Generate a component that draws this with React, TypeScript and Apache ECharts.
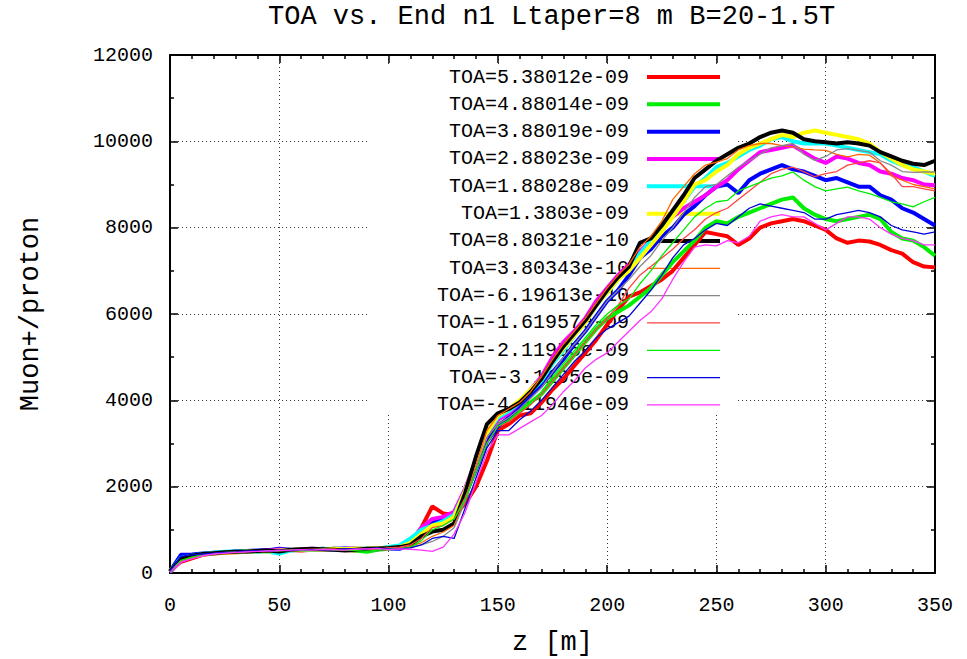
import React, { useEffect, useRef } from 'react';
import * as echarts from 'echarts';

const zValues = [
  0, 5, 10, 15, 20, 25, 30, 35, 40, 45, 50, 55, 60, 65, 70, 75, 80, 85, 90, 95, 100, 105,
  110, 115, 120, 125, 130, 135, 140, 145, 150, 155, 160, 165, 170, 175, 180, 185, 190, 195,
  200, 205, 210, 215, 220, 225, 230, 235, 240, 245, 250, 255, 260, 265, 270, 275, 280, 285,
  290, 295, 300, 305, 310, 315, 320, 325, 330, 335, 340, 345, 350,
];

const seriesNames = [
  'TOA=5.38012e-09', 'TOA=4.88014e-09', 'TOA=3.88019e-09', 'TOA=2.88023e-09',
  'TOA=1.88028e-09', 'TOA=1.3803e-09', 'TOA=8.80321e-10', 'TOA=3.80343e-10',
  'TOA=-6.19613e-10', 'TOA=-1.61957e-09', 'TOA=-2.11955e-09', 'TOA=-3.1195e-09',
  'TOA=-4.11946e-09',
];

const seriesColors = [
  '#ff0000', '#00ee00', '#0000ff', '#ff00ff', '#00ffff', '#ffff00', '#000000',
  '#ff6600', '#888888', '#ff4444', '#00ee00', '#0000dd', '#ff33ff',
];

const seriesWidths = [4, 4, 4, 4, 4, 4, 4, 1.3, 1.3, 1.3, 1.3, 1.3, 1.3];

const toaA = [60, 260, 340, 420, 450, 470, 480, 490, 510, 500, 520, 530, 520, 540, 560, 540, 530, 520, 560, 570, 590, 620,
  700, 1050, 1540, 1380, 1350, 1600, 2000, 2600, 3300, 3450, 3650, 3700, 3950, 4250, 4500, 4800, 5100, 5400, 5750, 6100, 6400, 6500, 6650, 6800, 7000, 7300, 7600, 7900, 7850, 7800, 7600, 7750, 8000, 8100, 8150, 8200, 8150, 8050, 7950, 7750, 7650, 7700, 7680, 7600, 7480, 7400, 7200, 7100, 7080];
const toaB = [30, 300, 380, 430, 460, 480, 490, 500, 500, 520, 510, 530, 540, 530, 550, 560, 540, 520, 490, 540, 560, 600,
  680, 950, 1250, 1200, 1350, 1750, 2450, 3100, 3450, 3550, 3750, 3950, 4150, 4450, 4750, 5050, 5350, 5650, 5900, 6050, 6200, 6400, 6600, 6900, 7200, 7450, 7700, 8000, 8150, 8100, 8250, 8350, 8450, 8550, 8650, 8700, 8450, 8300, 8200, 8150, 8200, 8250, 8300, 8200, 7900, 7750, 7700, 7550, 7350];
const toaC = [40, 420, 430, 450, 470, 480, 500, 510, 520, 530, 560, 540, 530, 550, 540, 560, 570, 560, 540, 580, 570, 560,
  650, 900, 1150, 1250, 1350, 1800, 2400, 3050, 3400, 3600, 3850, 4100, 4350, 4650, 4950, 5300, 5600, 5950, 6300, 6550, 6900, 7300, 7500, 7800, 8000, 8300, 8500, 8750, 8950, 9000, 8800, 9100, 9250, 9350, 9450, 9350, 9300, 9200, 9100, 9150, 9050, 8950, 8950, 8750, 8650, 8450, 8350, 8200, 8050];
const toaD = [20, 280, 370, 430, 460, 470, 490, 500, 510, 520, 540, 530, 550, 560, 550, 540, 560, 570, 560, 550, 580, 590,
  700, 1050, 1250, 1300, 1420, 1950, 2600, 3200, 3550, 3700, 3950, 4250, 4550, 5000, 5350, 5600, 5900, 6300, 6600, 6900, 7150, 7450, 7700, 8000, 8250, 8450, 8600, 8750, 8950, 9100, 9350, 9550, 9750, 9800, 9850, 9900, 9750, 9600, 9500, 9650, 9600, 9500, 9450, 9300, 9250, 9150, 9100, 9000, 8980];
const toaE = [30, 350, 400, 440, 470, 490, 500, 510, 500, 490, 450, 520, 540, 550, 560, 540, 550, 560, 570, 560, 600, 640,
  800, 1000, 1100, 1200, 1350, 1900, 2600, 3250, 3600, 3750, 3950, 4200, 4450, 4850, 5150, 5500, 5800, 6200, 6500, 6800, 7050, 7400, 7700, 7950, 8300, 8600, 8950, 9150, 9400, 9500, 9650, 9800, 9900, 10050, 10100, 10000, 9950, 9950, 9950, 9900, 9850, 9800, 9750, 9700, 9550, 9450, 9400, 9300, 9200];
const toaF = [50, 300, 380, 430, 450, 470, 480, 500, 510, 500, 520, 530, 540, 550, 540, 560, 550, 570, 560, 580, 570, 600,
  700, 900, 1100, 1150, 1300, 1900, 2600, 3250, 3650, 3800, 4000, 4250, 4500, 4900, 5200, 5500, 5800, 6200, 6500, 6800, 7000, 7300, 7600, 7900, 8250, 8600, 9000, 9100, 9300, 9450, 9700, 9850, 9950, 10050, 10150, 10100, 10200, 10250, 10200, 10150, 10100, 10050, 9950, 9750, 9600, 9450, 9350, 9300, 9250];
const toaG = [40, 330, 400, 440, 460, 480, 490, 500, 510, 520, 500, 540, 550, 560, 550, 540, 520, 540, 560, 570, 580, 600,
  650, 850, 960, 1000, 1150, 1850, 2700, 3450, 3700, 3800, 3950, 4200, 4500, 4900, 5250, 5550, 5850, 6200, 6550, 6850, 7100, 7650, 7750, 8050, 8400, 8750, 9150, 9350, 9550, 9700, 9850, 9950, 10100, 10200, 10250, 10200, 10050, 10000, 9980, 9950, 9980, 9950, 9900, 9750, 9650, 9550, 9480, 9450, 9550];
const toaH = [30, 280, 360, 420, 450, 470, 480, 500, 510, 510, 520, 530, 540, 540, 550, 550, 540, 550, 560, 560, 570, 580,
  620, 700, 850, 950, 1100, 1700, 2500, 3300, 3650, 3800, 3950, 4200, 4550, 4950, 5300, 5600, 5900, 6250, 6600, 6900, 7150, 7550, 7800, 8150, 8650, 8950, 9250, 9450, 9520, 9600, 9800, 9900, 9950, 9950, 9900, 9870, 9820, 9800, 9790, 9700, 9640, 9700, 9680, 9500, 9200, 9100, 9000, 8950, 8900];
const toaI = [20, 260, 350, 410, 440, 460, 480, 490, 500, 510, 520, 520, 530, 540, 540, 530, 540, 550, 540, 550, 560, 570,
  600, 650, 730, 850, 1050, 1650, 2400, 3150, 3450, 3600, 3800, 4050, 4300, 4650, 5000, 5300, 5600, 5950, 6300, 6550, 6800, 7100, 7350, 7700, 8000, 8350, 8700, 8950, 9000, 9200, 9400, 9550, 9700, 9850, 9900, 9950, 9700, 9560, 9650, 9800, 9830, 9790, 9750, 9550, 9450, 9300, 9280, 9290, 9290];
const toaJ = [40, 270, 360, 420, 450, 470, 490, 500, 500, 510, 530, 520, 540, 550, 540, 550, 530, 540, 550, 560, 580, 600,
  650, 800, 1050, 1100, 1250, 1750, 2350, 3000, 3400, 3500, 3700, 3900, 4150, 4450, 4750, 5050, 5350, 5650, 5900, 6200, 6600, 6900, 7100, 7300, 7500, 7750, 7950, 8200, 8350, 8450, 8650, 8850, 9050, 9250, 9350, 9400, 9300, 9180, 9250, 9300, 9450, 9500, 9550, 9500, 9250, 8950, 8950, 8900, 8850];
const toaK = [30, 290, 370, 420, 450, 480, 490, 500, 500, 510, 520, 530, 530, 540, 550, 540, 530, 520, 500, 530, 550, 560,
  600, 750, 1000, 1100, 1250, 1700, 2350, 3000, 3400, 3550, 3750, 3950, 4200, 4550, 4850, 5150, 5450, 5750, 6000, 6200, 6350, 6700, 7000, 7350, 7650, 7950, 8250, 8450, 8600, 8630, 8850, 8950, 9050, 9150, 9200, 9290, 9100, 8950, 8850, 8900, 8940, 8850, 8790, 8700, 8600, 8550, 8480, 8600, 8700];
const toaL = [50, 380, 420, 440, 460, 480, 490, 510, 520, 500, 530, 520, 540, 540, 530, 540, 560, 550, 560, 580, 550, 560,
  580, 650, 800, 850, 800, 1500, 2200, 2900, 3300, 3300, 3550, 3750, 4000, 4300, 4600, 4900, 5150, 5450, 5650, 5800, 5950, 6250, 6550, 6900, 7300, 7600, 7750, 7950, 8100, 8050, 8250, 8450, 8550, 8500, 8450, 8400, 8350, 8200, 8200, 8300, 8350, 8400, 8350, 8250, 8050, 7950, 7900, 7850, 7900];
const toaM = [20, 250, 330, 400, 440, 460, 480, 490, 500, 510, 520, 530, 540, 530, 550, 540, 530, 550, 560, 570, 540, 560,
  550, 530, 500, 600, 900, 1400, 2100, 2800, 3200, 3200, 3350, 3500, 3650, 3900, 4200, 4450, 4750, 4950, 5100, 5350, 5600, 5850, 6050, 6350, 6800, 7200, 7550, 7600, 7580, 7700, 7650, 7800, 8150, 8250, 8300, 8250, 8250, 8100, 7950, 8100, 8250, 8250, 8200, 8000, 7850, 7750, 7700, 7600, 7600];

const seriesValues = [toaA, toaB, toaC, toaD, toaE, toaF, toaG, toaH, toaI, toaJ, toaK, toaL, toaM];

const xTicks = { min: 0, max: 350, interval: 50 };
const yTicks = { min: 0, max: 12000, interval: 2000 };

const FONT = 'Liberation Mono';

export default function App() {
  const ref = useRef<HTMLDivElement>(null);
  useEffect(() => {
    const chart = echarts.init(ref.current as HTMLDivElement, null, { renderer: 'svg' });
    const tickCommon = {
      axisLine: { show: true, onZero: false, lineStyle: { color: '#000', width: 2 } },
      axisTick: { show: true, inside: true, length: 8, lineStyle: { color: '#000', width: 1.5 } },
    };
    const gridLine = { show: true, lineStyle: { color: '#333', width: 1, type: [1, 3] } };
    chart.setOption({
      animation: false,
      title: {
        text: 'TOA vs. End n1 Ltaper=8 m B=20-1.5T',
        left: 268,
        top: 3,
        padding: 0,
        textStyle: { fontFamily: FONT, fontSize: 27, fontWeight: 'normal', color: '#000' },
      },
      grid: { left: 170, right: 32, top: 55, bottom: 86, containLabel: false, outerBoundsMode: 'none' },
      legend: {
        orient: 'vertical',
        align: 'right',
        right: 247,
        top: 67,
        padding: 0,
        itemWidth: 73,
        itemHeight: 20,
        itemGap: 7.33,
        selectedMode: false,
        z: 1,
        itemStyle: { borderWidth: 0 },
        textStyle: { fontFamily: FONT, fontSize: 20, color: '#000', padding: [0, 13, 0, 0] },
        data: seriesNames.map((n, i) => ({
          name: n,
          icon: seriesWidths[i] > 2 ? 'path://M0,0L73,0L73,4L0,4Z' : 'path://M0,0L73,0L73,1.3L0,1.3Z',
        })),
      },
      graphic: [
        { type: 'rect', z: 0.5, silent: true, shape: { x: 370, y: 64, width: 365, height: 351 }, style: { fill: '#fff' } },
      ],
      xAxis: [
        {
          type: 'value', position: 'bottom', ...xTicks,
          ...tickCommon,
          minorTick: { show: true, splitNumber: 5, length: 4, lineStyle: { color: '#000', width: 1.5 } },
          splitLine: gridLine,
          axisLabel: { margin: 22, fontFamily: FONT, fontSize: 20, color: '#000', formatter: (v: number) => String(v) },
          name: 'z [m]', nameLocation: 'middle', nameGap: 56,
          nameTextStyle: { fontFamily: FONT, fontSize: 27, color: '#000' },
        },
        {
          type: 'value', position: 'top', ...xTicks,
          ...tickCommon,
          minorTick: { show: true, splitNumber: 5, length: 4, lineStyle: { color: '#000', width: 1.5 } },
          splitLine: { show: false },
          axisLabel: { show: false },
        },
      ],
      yAxis: [
        {
          type: 'value', position: 'left', ...yTicks,
          ...tickCommon,
          minorTick: { show: true, splitNumber: 2, length: 4, lineStyle: { color: '#000', width: 1.5 } },
          splitLine: gridLine,
          axisLabel: { margin: 17, fontFamily: FONT, fontSize: 20, color: '#000', formatter: (v: number) => String(v) },
          name: 'Muon+/proton', nameLocation: 'middle', nameGap: 126,
          nameTextStyle: { fontFamily: FONT, fontSize: 27, color: '#000' },
        },
        {
          type: 'value', position: 'right', ...yTicks,
          ...tickCommon,
          minorTick: { show: true, splitNumber: 2, length: 4, lineStyle: { color: '#000', width: 1.5 } },
          splitLine: { show: false },
          axisLabel: { show: false },
        },
      ],
      series: seriesNames.map((n, i) => ({
        name: n,
        type: 'line',
        xAxisIndex: 0,
        yAxisIndex: 0,
        symbol: 'none',
        showSymbol: false,
        silent: true,
        z: 2,
        color: seriesColors[i],
        lineStyle: { color: seriesColors[i], width: seriesWidths[i] },
        data: zValues.map((z, k) => [z, seriesValues[i][k]]),
      })),
    });
    return () => chart.dispose();
  }, []);
  return <div ref={ref} style={{ position: 'absolute', left: 0, top: 0, width: 967, height: 659, background: '#fff' }} />;
}
